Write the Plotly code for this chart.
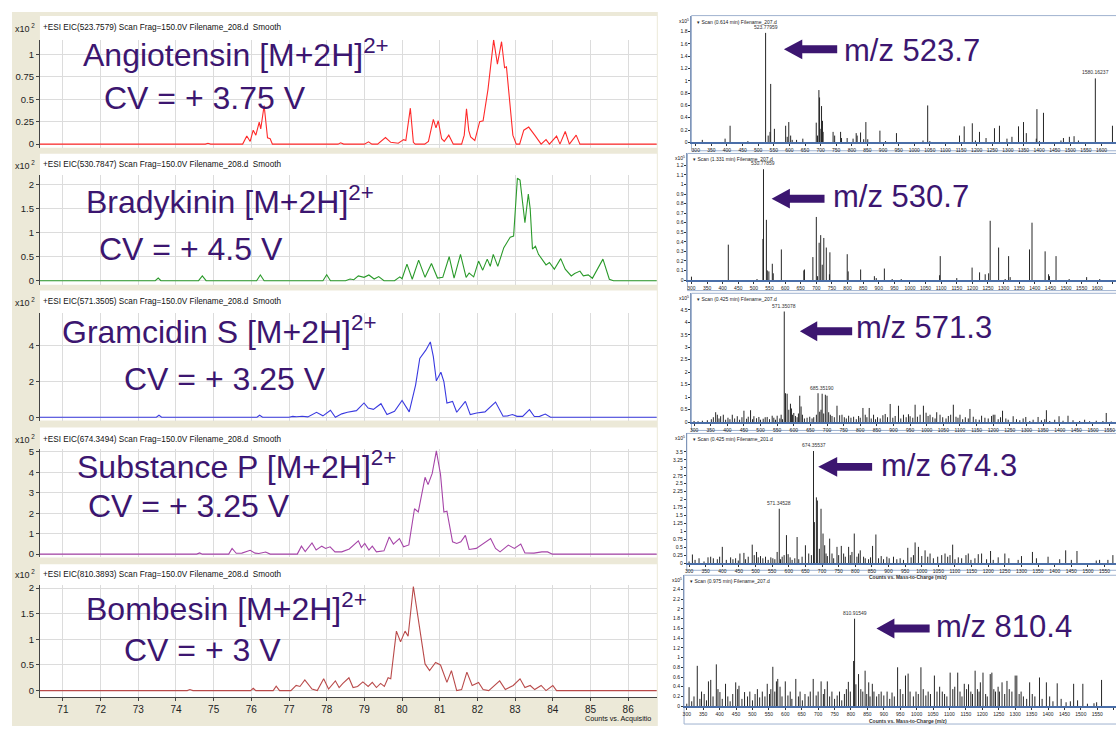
import plotly.graph_objects as go

W, H = 1116, 729


def fx(p):
    return p / W


def fy(p):
    return 1 - p / H


# ---------------- extracted ion chromatograms (min, counts x10^2) ----------------
angio_t = [70.39, 74.78, 74.85, 74.92, 75.77, 75.88, 75.97, 76.05, 76.12, 76.21, 76.25, 76.34, 76.43, 76.50, 76.56,
           78.30, 78.37, 78.45, 79.00, 79.11, 79.20, 79.35, 79.56, 79.70, 79.90, 80.04, 80.10, 80.22, 80.30, 80.35,
           80.60, 80.70, 80.83, 80.90, 80.96, 81.05, 81.12, 81.24, 81.36, 81.58, 81.65, 81.71, 81.77, 81.82, 81.93,
           82.00, 82.06, 82.15, 82.28, 82.43, 82.53, 82.64, 82.72, 82.77, 82.86, 82.94, 83.03, 83.12, 83.23, 83.36,
           83.52, 83.69, 83.82, 83.91, 84.10, 84.19, 84.33, 84.44, 84.62, 84.72, 86.76]
angio_i = [0, 0, 0.01, 0, 0, 0.09, 0.03, 0.155, 0.10, 0.245, 0.17, 0.43, 0.07, 0.06, 0,
           0, 0.015, 0, 0, 0.025, 0, 0, 0.073, 0.02, 0.01, 0.05, 0.04, 0.40, 0.02, 0,
           0, 0.03, 0.276, 0.18, 0.26, 0.06, 0.03, 0.10, 0, 0, 0.10, 0.393, 0.15, 0.08, 0.04,
           0.15, 0.25, 0.26, 0.61, 1.16, 0.89, 1.14, 0.85, 0.86, 0.47, 0.10, 0, 0, 0.155, 0.19,
           0.10, 0, 0.05, 0, 0.09, 0, 0.14, 0, 0.10, 0, 0]

brady_t = [70.39, 73.45, 73.53, 73.60, 74.60, 74.70, 74.80, 76.14, 76.24, 76.34, 77.90, 78.00, 78.10, 78.50,
           78.62, 78.72, 78.84, 78.99, 79.12, 79.26, 79.38, 79.52, 79.80, 79.94, 80.00, 80.13, 80.27, 80.44,
           80.61, 80.78, 80.94, 81.08, 81.25, 81.38, 81.55, 81.70, 81.78, 81.90, 82.03, 82.14, 82.26, 82.34,
           82.42, 82.54, 82.70, 82.87, 82.96, 83.06, 83.13, 83.26, 83.35, 83.40, 83.46, 83.54, 83.62, 83.71,
           83.82, 83.91, 84.04, 84.21, 84.33, 84.49, 84.58, 84.72, 84.81, 84.94, 85.05, 85.33, 85.50, 85.61, 86.76]
brady_i = [0, 0, 0.055, 0, 0, 0.10, 0, 0, 0.12, 0, 0, 0.125, 0, 0,
           0.035, 0.02, 0.10, 0.07, 0.12, 0.035, 0.085, 0, 0, 0.08, 0.04, 0.345, 0.03, 0.43,
           0.07, 0.36, 0.055, 0.07, 0.50, 0.055, 0.55, 0.07, 0.16, 0.08, 0.41, 0.22, 0.45, 0.30,
           0.55, 0.30, 0.69, 0.91, 0.93, 2.14, 2.10, 1.21, 1.81, 1.50, 0.66, 0.72, 0.55, 0.45,
           0.33, 0.38, 0.24, 0.46, 0.24, 0.10, 0.15, 0.20, 0.10, 0.12, 0.05, 0.45, 0.03, 0, 0]

gram_t = [70.39, 73.48, 73.55, 73.62, 76.15, 76.22, 76.30, 77.00, 77.10, 77.20, 77.35, 77.50, 77.73, 77.90,
          78.10, 78.23, 78.40, 78.55, 78.79, 78.99, 79.10, 79.24, 79.44, 79.60, 79.80, 80.00, 80.19, 80.36,
          80.47, 80.63, 80.75, 80.83, 80.91, 81.03, 81.11, 81.19, 81.34, 81.45, 81.68, 81.81, 81.98, 82.20,
          82.48, 82.68, 82.80, 82.93, 83.05, 83.20, 83.38, 83.51, 83.65, 83.80, 83.94, 86.76]
gram_i = [0, 0, 0.11, 0, 0, 0.11, 0, 0, 0.05, 0.03, 0.06, 0.02, 0.28, 0.08,
          0.39, 0, 0.19, 0.28, 0.37, 0.80, 0.52, 0.44, 0.76, 0.15, 0.33, 0.94, 0.30, 1.82,
          3.30, 3.76, 4.22, 3.40, 2.04, 2.52, 2.00, 0.80, 0.89, 0.28, 0.89, 0.15, 0.24, 0.30,
          0.85, 0.06, 0.08, 0.15, 0.05, 0.05, 0.43, 0.04, 0.05, 0.18, 0, 0]

subp_t = [70.39, 74.55, 74.63, 74.70, 75.40, 75.49, 75.60, 75.75, 75.97, 76.10, 76.20, 76.38, 76.50, 77.22,
          77.33, 77.43, 77.61, 77.72, 77.87, 77.97, 78.09, 78.22, 78.40, 78.60, 78.84, 78.92, 79.01, 79.12,
          79.21, 79.32, 79.52, 79.66, 79.77, 79.93, 80.04, 80.18, 80.33, 80.43, 80.61, 80.69, 80.80, 80.91,
          81.02, 81.11, 81.19, 81.34, 81.45, 81.56, 81.68, 81.78, 81.97, 82.15, 82.35, 82.48, 82.60, 82.82,
          82.98, 83.15, 83.26, 83.50, 83.71, 83.86, 83.99, 86.76]
subp_i = [0, 0, 0.06, 0, 0, 0.28, 0.04, 0.05, 0.19, 0.05, 0.03, 0.10, 0, 0,
          0.39, 0.13, 0.55, 0.20, 0.39, 0.28, 0.36, 0.11, 0.11, 0.25, 0.65, 0.32, 0.52, 0.20,
          0.39, 0.11, 0.16, 0.84, 0.49, 0.76, 0.36, 0.45, 2.22, 2.06, 3.76, 3.40, 3.95, 5.05,
          3.90, 2.06, 2.10, 0.60, 0.52, 0.60, 0.92, 0.23, 0.28, 0.52, 0.76, 0.28, 0.11, 0.44,
          0.28, 0.49, 0.06, 0.05, 0.11, 0.11, 0, 0]

bomb_t = [70.39, 74.30, 74.37, 74.45, 75.98, 76.05, 76.12, 76.58, 76.66, 76.75, 77.05, 77.19, 77.29, 77.42,
          77.61, 77.75, 77.92, 78.05, 78.23, 78.33, 78.43, 78.59, 78.70, 78.82, 78.96, 79.10, 79.21, 79.32,
          79.43, 79.53, 79.63, 79.70, 79.85, 79.96, 80.08, 80.16, 80.30, 80.41, 80.52, 80.61, 80.73, 80.89,
          81.02, 81.19, 81.31, 81.45, 81.58, 81.72, 81.86, 82.03, 82.15, 82.30, 82.59, 82.74, 82.95, 83.13,
          83.26, 83.40, 83.52, 83.69, 83.82, 84.00, 84.10, 86.76]
bomb_i = [0, 0, 0.02, 0, 0, 0.045, 0, 0, 0.085, 0, 0, 0.10, 0.08, 0.21,
          0.03, 0, 0.23, 0.03, 0.19, 0.06, 0.14, 0.25, 0.06, 0.08, 0.17, 0.08, 0.16, 0.06,
          0.14, 0.08, 0.25, 0.23, 1.16, 0.95, 1.16, 1.06, 2.03, 1.48, 0.90, 0.52, 0.39, 0.55,
          0.50, 0.16, 0.39, 0, 0.02, 0.36, 0.10, 0.16, 0.02, 0, 0.19, 0.02, 0.10, 0.23,
          0.06, 0.10, 0.02, 0.10, 0, 0.10, 0, 0]

eic_headers = ["+ESI EIC(523.7579) Scan Frag=150.0V Filename_208.d \u00a0Smooth",
               "+ESI EIC(530.7847) Scan Frag=150.0V Filename_208.d \u00a0Smooth",
               "+ESI EIC(571.3505) Scan Frag=150.0V Filename_208.d \u00a0Smooth",
               "+ESI EIC(674.3494) Scan Frag=150.0V Filename_208.d \u00a0Smooth",
               "+ESI EIC(810.3893) Scan Frag=150.0V Filename_208.d \u00a0Smooth"]
eic_ticks = [[0, 0.25, 0.5, 0.75, 1], [0, 0.5, 1, 1.5, 2], [0, 2, 4], [0, 1, 2, 3, 4, 5], [0, 0.5, 1, 1.5, 2]]
eic_ticktext = [["0", "0.25", "0.5", "0.75", "1"], ["0", "0.5", "1", "1.5", "2"], ["0", "2", "4"],
                ["0", "1", "2", "3", "4", "5"], ["0", "0.5", "1", "1.5", "2"]]
time_ticks = list(range(71, 87))

peptide_labels = ["Angiotensin [M+2H]<sup>2+</sup>", "Bradykinin [M+2H]<sup>2+</sup>",
                  "Gramcidin S [M+2H]<sup>2+</sup>", "Substance P [M+2H]<sup>2+</sup>",
                  "Bombesin [M+2H]<sup>2+</sup>"]
cv_labels = ["CV = + 3.75 V", "CV = + 4.5 V", "CV = + 3.25 V", "CV = + 3.25 V", "CV = + 3 V"]

# ---------------- mass spectra (m/z, counts x10^5) ----------------
ang_mz = [321, 394, 410, 467, 523.78, 532, 538, 540, 552, 588, 593, 598, 604, 609, 623, 643, 686, 690, 694.5, 696.6,
          701, 703, 706, 708, 740, 745, 764, 767, 785, 804, 814, 817, 828, 838, 845, 851, 890, 908, 943, 1028,
          1043, 1050, 1145, 1160, 1186, 1196, 1209, 1230, 1257, 1273, 1297, 1313, 1334, 1350, 1359, 1391, 1393,
          1401, 1414, 1470, 1478, 1497, 1512, 1526, 1580.16, 1635]
ang_int = [0.04, 0.06, 0.27, 0.02, 1.78, 0.11, 0.17, 0.95, 0.22, 0.27, 0.09, 0.33, 0.11, 0.04, 0.04, 0.06, 0.32, 0.11,
           0.85, 0.73, 0.22, 0.59, 0.35, 0.17, 0.17, 0.11, 0.17, 0.07, 0.07, 0.06, 0.15, 0.11, 0.16, 0.05, 0.33, 0.05,
           0.19, 0.02, 0.15, 0.03, 0.60, 0.02, 0.11, 0.26, 0.31, 0.03, 0.17, 0.07, 0.23, 0.27, 0.06, 0.09, 0.26,
           0.33, 0.15, 0.06, 0.54, 0.02, 0.48, 0.03, 0.07, 0.09, 0.10, 0.03, 1.04, 0.27]

brd_mz = [300, 418, 510, 529, 530.78, 540, 543, 548, 559, 562, 588, 660, 662, 689, 700, 704, 709, 714, 719, 724,
          732, 742, 743.5, 799, 802, 842, 886, 892, 918, 943, 972, 1095, 1097, 1150, 1199, 1223, 1241, 1252,
          1257, 1284, 1305, 1316, 1321, 1383, 1391, 1433, 1444, 1447, 1468, 1510, 1566, 1608]
brd_int = [0.035, 0.37, 0.01, 0.43, 1.16, 0.63, 0.10, 0.09, 0.17, 0.07, 0.32, 0.10, 0.11, 0.24, 0.66, 0.04, 0.39,
           0.47, 0.16, 0.44, 0.34, 0.06, 0.29, 0.27, 0.09, 0.11, 0.04, 0.02, 0.12, 0.01, 0.01, 0.05, 0.25, 0.02,
           0.13, 0.08, 0.06, 0.07, 0.62, 0.34, 0.01, 0.25, 0.03, 0.32, 0.60, 0.30, 0.06, 0.04, 0.25, 0.01, 0.03, 0.01]

grm_mz = [571.35, 575, 580, 590, 600, 618, 622, 673, 685.35, 695, 700, 365, 370, 380, 388, 415, 430, 450, 470, 480,
          495, 520, 535, 550, 730, 745, 765, 808, 827, 840, 875, 890, 915, 930, 950, 965, 990, 1010, 1030, 1080,
          1100, 1130, 1165, 1205, 1228, 1260, 1298, 1335, 1360, 1398, 1425, 1475, 1540,
          300, 312, 325, 340, 352, 358, 375, 395, 402, 408, 422, 437, 444, 458, 463, 476, 488, 500, 508, 514, 527,
          540, 545, 558, 562, 566, 585, 593, 596, 605, 610, 614, 626, 632, 640, 648, 655, 660, 668, 678, 682,
          690, 705, 710, 715, 722, 738, 752, 758, 772, 780, 788, 795, 800, 815, 820, 833, 846, 852, 860, 868,
          882, 898, 905, 922, 938, 945, 958, 972, 980, 998, 1004, 1018, 1025, 1040, 1048, 1058, 1065, 1072,
          1088, 1094, 1108, 1116, 1125, 1140, 1148, 1158, 1175, 1185, 1195, 1200, 1215, 1222, 1238, 1245,
          1270, 1280, 1290, 1310, 1320, 1345, 1355, 1370, 1385, 1410, 1440, 1460, 1490, 1510, 1530, 1555]
grm_int = [4.43, 1.16, 1.14, 0.74, 0.37, 1.06, 0.63, 1.16, 1.14, 1.10, 1.06, 0.40, 0.30, 0.24, 0.30, 0.30, 0.24,
           0.46, 0.48, 0.24, 0.21, 0.21, 0.26, 0.26, 0.66, 0.30, 0.26, 0.57, 0.57, 0.30, 0.33, 0.73, 0.66, 0.30,
           0.24, 0.70, 0.66, 0.30, 0.40, 0.70, 0.30, 0.53, 0.26, 0.30, 0.46, 0.24, 0.21, 0.21, 0.48, 0.24, 0.26,
           0.10, 0.37,
           0.05, 0.04, 0.06, 0.08, 0.12, 0.20, 0.15, 0.10, 0.18, 0.12, 0.15, 0.10, 0.20, 0.14, 0.22, 0.12, 0.16,
           0.10, 0.14, 0.20, 0.12, 0.18, 0.10, 0.15, 0.30, 0.12, 0.50, 0.55, 0.30, 0.25, 0.20, 0.35, 0.30, 0.15,
           0.18, 0.22, 0.15, 0.20, 0.30, 0.42, 0.50, 0.35, 0.40, 0.30, 0.25, 0.20, 0.28, 0.20, 0.15, 0.18, 0.22,
           0.12, 0.25, 0.18, 0.30, 0.20, 0.15, 0.12, 0.20, 0.15, 0.28, 0.20, 0.18, 0.25, 0.15, 0.20, 0.32, 0.18,
           0.22, 0.30, 0.38, 0.25, 0.20, 0.15, 0.30, 0.20, 0.15, 0.25, 0.30, 0.22, 0.18, 0.12, 0.20, 0.15, 0.22,
           0.12, 0.10, 0.18, 0.15, 0.25, 0.30, 0.12, 0.20, 0.15, 0.10, 0.12, 0.08, 0.15, 0.05, 0.10, 0.08, 0.12,
           0.05, 0.10, 0.06, 0.08, 0.05, 0.04, 0.06, 0.05, 0.03]

sbp_mz = [674.35, 571.35, 677, 683, 686, 697, 703, 708, 723, 745, 758, 780, 797, 815, 852, 862, 958, 980, 990,
          1010, 1093, 1207, 1250, 1333, 1433, 1467, 1575, 310, 400, 453, 465, 490, 503, 565, 593, 625, 650,
          300, 318, 330, 345, 357, 365, 373, 385, 392, 412, 425, 432, 440, 448, 470, 478, 496, 508, 515, 522,
          530, 538, 546, 552, 558, 575, 580, 586, 598, 604, 610, 618, 630, 640, 660, 668, 692, 712, 716, 730,
          735, 750, 765, 770, 785, 790, 805, 810, 825, 830, 840, 846, 870, 878, 885, 895, 902, 915, 925, 935,
          945, 968, 975, 1000, 1018, 1025, 1035, 1048, 1060, 1070, 1078, 1085, 1100, 1110, 1120, 1133, 1140,
          1148, 1160, 1170, 1180, 1195, 1215, 1230, 1262, 1290, 1300, 1345, 1380, 1415, 1450, 1525, 1535, 1560]
sbp_int = [3.53, 1.71, 1.29, 2.07, 1.97, 1.71, 0.93, 0.56, 0.77, 0.51, 0.54, 0.51, 0.93, 0.40, 0.54, 0.90, 0.48,
           0.65, 0.51, 0.40, 0.58, 0.38, 0.30, 0.35, 0.40, 0.38, 0.25, 0.27, 0.51, 0.30, 0.32, 0.58, 0.35, 0.35,
           0.88, 0.82, 0.56,
           0.05, 0.10, 0.15, 0.05, 0.18, 0.20, 0.15, 0.12, 0.20, 0.10, 0.18, 0.12, 0.15, 0.08, 0.12, 0.20, 0.25,
           0.18, 0.22, 0.15, 0.20, 0.10, 0.18, 0.15, 0.12, 0.12, 0.20, 0.25, 0.28, 0.18, 0.10, 0.15, 0.12, 0.20,
           0.30, 0.25, 0.45, 0.30, 0.22, 0.30, 0.15, 0.25, 0.30, 0.20, 0.25, 0.35, 0.20, 0.30, 0.20, 0.15, 0.12,
           0.18, 0.15, 0.22, 0.12, 0.20, 0.15, 0.20, 0.12, 0.15, 0.10, 0.18, 0.25, 0.22, 0.20, 0.30, 0.15, 0.20,
           0.25, 0.30, 0.20, 0.25, 0.12, 0.18, 0.15, 0.25, 0.30, 0.10, 0.15, 0.28, 0.30, 0.12, 0.10, 0.18, 0.15,
           0.10, 0.22, 0.15, 0.20, 0.12, 0.10, 0.08, 0.10, 0.10]

bmb_mz = [810.92, 808, 823, 843, 854, 307, 332, 353, 366, 373, 390, 401, 418, 449, 459, 476, 515, 545, 562, 573,
          577, 600, 632, 685, 709, 728, 792, 865, 942, 966, 974, 1013, 1054, 1102, 1125, 1145, 1178, 1194, 1202,
          1224, 1229, 1260, 1275, 1300, 1305, 1344, 1374, 1395, 1428, 1478, 1506, 1563,
          300, 315, 322, 340, 345, 360, 380, 395, 408, 425, 432, 440, 455, 468, 485, 492, 500, 508, 522, 530,
          538, 552, 556, 568, 584, 590, 608, 615, 620, 640, 645, 652, 660, 670, 676, 694, 700, 716, 720, 735,
          742, 750, 758, 765, 772, 780, 786, 798, 815, 830, 836, 848, 858, 870, 878, 885, 892, 900, 910, 918,
          925, 932, 950, 958, 980, 990, 998, 1005, 1020, 1028, 1035, 1042, 1062, 1070, 1078, 1085, 1092, 1110,
          1116, 1132, 1138, 1152, 1158, 1165, 1170, 1185, 1190, 1210, 1215, 1235, 1240, 1248, 1252, 1268,
          1282, 1290, 1312, 1318, 1325, 1335, 1352, 1360, 1382, 1405, 1415, 1440, 1455, 1468, 1490, 1520,
          1540, 1548]
bmb_int = [1.80, 0.93, 0.66, 0.73, 0.49, 0.39, 0.83, 0.25, 0.51, 0.54, 0.86, 0.29, 0.46, 0.49, 0.42, 0.29, 0.35,
           0.46, 0.81, 0.51, 0.56, 0.51, 0.56, 0.56, 0.51, 0.51, 0.50, 0.46, 0.80, 0.63, 0.67, 0.80, 0.63, 0.69,
           0.69, 0.46, 0.73, 0.49, 0.69, 0.66, 0.69, 0.49, 0.52, 0.63, 0.63, 0.49, 0.59, 0.49, 0.47, 0.46, 0.46,
           0.54,
           0.05, 0.10, 0.20, 0.15, 0.30, 0.12, 0.20, 0.35, 0.15, 0.20, 0.10, 0.25, 0.35, 0.15, 0.20, 0.30, 0.12,
           0.25, 0.18, 0.30, 0.20, 0.25, 0.35, 0.30, 0.40, 0.20, 0.22, 0.30, 0.15, 0.20, 0.30, 0.12, 0.25, 0.20,
           0.30, 0.22, 0.30, 0.25, 0.35, 0.20, 0.30, 0.15, 0.22, 0.30, 0.12, 0.25, 0.35, 0.30, 0.45, 0.35, 0.30,
           0.25, 0.20, 0.30, 0.20, 0.25, 0.30, 0.22, 0.30, 0.15, 0.28, 0.20, 0.35, 0.25, 0.30, 0.20, 0.30, 0.25,
           0.35, 0.22, 0.30, 0.25, 0.30, 0.40, 0.30, 0.25, 0.20, 0.35, 0.40, 0.30, 0.20, 0.35, 0.45, 0.30, 0.25,
           0.35, 0.30, 0.25, 0.20, 0.35, 0.30, 0.40, 0.30, 0.25, 0.35, 0.30, 0.25, 0.30, 0.20, 0.15, 0.25, 0.20,
           0.15, 0.20, 0.10, 0.15, 0.08, 0.10, 0.12, 0.05, 0.06, 0.08]

scan_headers = ["Scan (0.614 min) Filename_207.d", "Scan (1.331 min) Filename_207.d",
                "Scan (0.425 min) Filename_207.d", "Scan (0.425 min) Filename_201.d",
                "Scan (0.975 min) Filename_207.d"]
peak_labels = [[(523.78, 1.78, "523.77959"), (1580.16, 1.04, "1580.16237")],
               [(530.78, 1.16, "530.77859")],
               [(571.35, 4.43, "571.35078"), (685.35, 1.14, "685.35190")],
               [(674.35, 3.53, "674.35537"), (571.35, 1.71, "571.34528")],
               [(810.92, 1.80, "810.91549")]]
mz_callouts = ["m/z 523.7", "m/z 530.7", "m/z 571.3", "m/z 674.3", "m/z 810.4"]
mz_ticks = list(range(300, 1700, 50))

# ---------------- styling / geometry ----------------
BEIGE = "#ECE9D8"
GRID = "#dcdcdc"
PURPLE = "#3c1670"
NARROW = "Liberation Sans Narrow, Arial Narrow, Liberation Sans, Arial, sans-serif"
SANS = "Liberation Sans, Arial, sans-serif"

eic_series = [(angio_t, angio_i, "#ff2a2a"), (brady_t, brady_i, "#2a9a2a"), (gram_t, gram_i, "#3a3ae0"),
              (subp_t, subp_i, "#a645a8"), (bomb_t, bomb_i, "#b94a4a")]
# (white top, plot top, plot bottom, zero row, px per unit, header row)
eic_geom = [(13, 37, 146, 142.3, 90.6, 25), (152, 173, 284, 280.0, 48.3, 163), (290, 313, 421, 417.7, 18.0, 301),
            (428, 450, 559, 555.7, 20.6, 440), (566, 587, 700, 693.3, 51.7, 576)]
label_pos = [((78.7, 50), (100.3, 96)), ((81.7, 199), (95.3, 248)), ((58.4, 329.7), (119.9, 379.3)),
             ((73.3, 465.8), (83.9, 507)), ((81.7, 609), (119.9, 652))]
T_LEFT, T_RIGHT = 70.391, 86.76
PX_L, PX_R = 38, 656

spectra = [(ang_mz, ang_int), (brd_mz, brd_int), (grm_mz, grm_int), (sbp_mz, sbp_int), (bmb_mz, bmb_int)]
# (frame left, frame top, axis row, px per unit, x of m/z 300, px per m/z, frame bottom, ytick step, ytick max)
ms_geom = [(690.7, 12.7, 140.5, 62.0, 695.0, 0.3127, 149, 0.2, 1.8),
           (686.7, 151.7, 279.3, 96.3, 690.7, 0.3127, 290, 0.1, 1.2),
           (690.7, 292.7, 422.7, 25.2, 693.3, 0.333, 431, 0.5, 4.5),
           (686.0, 434.0, 564.7, 32.0, 688.3, 0.333, 572, 0.25, 3.5),
           (683.3, 577.0, 709.0, 49.0, 686.0, 0.329, 727, 0.2, 2.4)]
arrows = [(783.3, 46.7, 801.7, 836.7), (771.0, 197.3, 789.3, 824.0), (799.3, 331.0, 816.7, 851.7),
          (817.7, 467.7, 836.7, 871.7), (876.0, 630.7, 894.0, 929.3)]
callout_pos = [(842, 47.5), (830.3, 195.3), (853.7, 327.3), (878.7, 466), (933.7, 629)]

fig = go.Figure()
layout = dict(width=W, height=H, margin=dict(l=0, r=0, t=0, b=0), paper_bgcolor="white",
              plot_bgcolor="rgba(0,0,0,0)", showlegend=False)
shapes = [dict(type="rect", xref="paper", yref="paper", x0=fx(10), x1=fx(657), y0=fy(729), y1=fy(9),
               fillcolor=BEIGE, line_width=0, layer="below")]
annotations = []


def fmt(v):
    s = ("%.2f" % v).rstrip("0").rstrip(".")
    return s


# ---- chromatogram panels ----
for k in range(5):
    n = k + 1
    xa = "xaxis" if n == 1 else "xaxis%d" % n
    ya = "yaxis" if n == 1 else "yaxis%d" % n
    xr = "x" if n == 1 else "x%d" % n
    yr = "y" if n == 1 else "y%d" % n
    wtop, ptop, pbot, zero, ppu, hdr = eic_geom[k]
    t, inten, col = eic_series[k]
    assert len(t) == len(inten)
    shapes.append(dict(type="rect", xref="paper", yref="paper", x0=fx(PX_L), x1=fx(PX_R), y0=fy(pbot),
                       y1=fy(wtop), fillcolor="white", line_width=0, layer="below"))
    last = (k == 4)
    layout[xa] = dict(domain=[fx(PX_L), fx(PX_R)], range=[T_LEFT, T_RIGHT], anchor=yr,
                      tickvals=time_ticks, ticktext=[str(v) for v in time_ticks],
                      showgrid=True, gridcolor=GRID, gridwidth=1, zeroline=False,
                      showticklabels=last, ticks="outside" if last else "", ticklen=3, tickcolor="#444",
                      showline=last, linecolor="#444", linewidth=1,
                      tickfont=dict(family=NARROW, size=10, color="#222"))
    layout[ya] = dict(domain=[fy(pbot), fy(ptop)], range=[(zero - pbot) / ppu, (zero - ptop) / ppu], anchor=xr,
                      tickvals=eic_ticks[k], ticktext=eic_ticktext[k], showgrid=True, gridcolor=GRID,
                      zeroline=False, ticks="outside", ticklen=3, tickcolor="#444", showline=True,
                      linecolor="#444", linewidth=1, tickfont=dict(family=NARROW, size=9.5, color="#222"))
    fig.add_trace(go.Scatter(x=t, y=inten, mode="lines", line=dict(color=col, width=1.1), xaxis=xr, yaxis=yr,
                             hoverinfo="skip"))
    annotations.append(dict(xref="paper", yref="paper", x=fx(11), y=fy(hdr), xanchor="left", yanchor="middle",
                            text="x10<sup> 2</sup>", showarrow=False,
                            font=dict(family=NARROW, size=9, color="#222")))
    annotations.append(dict(xref="paper", yref="paper", x=fx(39), y=fy(hdr), xanchor="left", yanchor="middle",
                            text=eic_headers[k], showarrow=False, font=dict(family=NARROW, size=8.2, color="#111")))
    (lx, ly), (cx, cy) = label_pos[k]
    annotations.append(dict(xref="paper", yref="paper", x=fx(lx), y=fy(ly), xanchor="left", yanchor="middle",
                            text=peptide_labels[k], showarrow=False, font=dict(family=SANS, size=32, color=PURPLE)))
    annotations.append(dict(xref="paper", yref="paper", x=fx(cx), y=fy(cy), xanchor="left", yanchor="middle",
                            text=cv_labels[k], showarrow=False, font=dict(family=SANS, size=32, color=PURPLE)))

annotations.append(dict(xref="paper", yref="paper", x=fx(582), y=fy(721), xanchor="left", yanchor="middle",
                        text="Counts vs. Acquisitio", showarrow=False,
                        font=dict(family=NARROW, size=7.2, color="#111")))

# ---- mass spectrum panels ----
for k in range(5):
    n = k + 6
    xa, ya, xr, yr = "xaxis%d" % n, "yaxis%d" % n, "x%d" % n, "y%d" % n
    fl, ft, axrow, ppu, x300, pxmz, fb, ystep, ymax = ms_geom[k]
    mz, inten = spectra[k]
    assert len(mz) == len(inten)
    lo = 300 + (fl - x300) / pxmz
    hi = 300 + (W - x300) / pxmz
    shapes.append(dict(type="rect", xref="paper", yref="paper", x0=fx(fl), x1=fx(W + 5), y0=fy(fb), y1=fy(ft),
                       fillcolor="white", line=dict(color="#9fb2cf", width=1), layer="below"))
    nt = int(round(ymax / ystep))
    yt = [round(i * ystep, 2) for i in range(nt + 1)]
    layout[xa] = dict(domain=[fx(fl), 1.0], range=[lo, hi], anchor=yr, tickvals=mz_ticks,
                      ticktext=[str(v) for v in mz_ticks], showgrid=False, zeroline=False, ticks="outside",
                      ticklen=2, tickcolor="#333", showline=True, linecolor="#4a6ea8", linewidth=1.5,
                      tickfont=dict(family=SANS, size=5, color="#222"))
    layout[ya] = dict(domain=[fy(axrow), fy(ft)], range=[0, (axrow - ft) / ppu], anchor=xr, tickvals=yt,
                      ticktext=[fmt(v) for v in yt], showgrid=False, zeroline=False, ticks="outside", ticklen=2,
                      tickcolor="#333", showline=True, linecolor="#7f95b8", linewidth=1,
                      tickfont=dict(family=SANS, size=5, color="#111"))
    xs, ys = [], []
    for m, v in zip(mz, inten):
        xs += [m, m, None]
        ys += [0, v, None]
    fig.add_trace(go.Scatter(x=xs, y=ys, mode="lines", line=dict(color="#262626", width=1), xaxis=xr, yaxis=yr,
                             hoverinfo="skip", connectgaps=False))
    for (m, v, txt) in peak_labels[k]:
        annotations.append(dict(xref=xr, yref=yr, x=m, y=v, yanchor="bottom", xanchor="center", yshift=1,
                                text=txt, showarrow=False, font=dict(family=SANS, size=5, color="#333")))
    annotations.append(dict(xref="paper", yref="paper", x=fx(fl - 14), y=fy(ft + 5), xanchor="left",
                            yanchor="middle", text="x10<sup>5</sup>", showarrow=False,
                            font=dict(family=SANS, size=5, color="#111")))
    annotations.append(dict(xref="paper", yref="paper", x=fx(fl + 4), y=fy(ft + 6), xanchor="left",
                            yanchor="middle", text="\u25be " + scan_headers[k], showarrow=False,
                            font=dict(family=SANS, size=5, color="#222")))
    # call-out arrow and m/z text
    tx, ty, bx, ex = arrows[k]
    pts = [(tx, ty), (bx, ty - 10), (bx, ty - 4), (ex, ty - 4), (ex, ty + 4), (bx, ty + 4), (bx, ty + 10)]
    path = "M " + " L ".join("%.5f,%.5f" % (fx(a), fy(b)) for a, b in pts) + " Z"
    shapes.append(dict(type="path", xref="paper", yref="paper", path=path, fillcolor=PURPLE, line_width=0,
                       layer="above"))
    cx, cy = callout_pos[k]
    annotations.append(dict(xref="paper", yref="paper", x=fx(cx), y=fy(cy), xanchor="left", yanchor="middle",
                            text=mz_callouts[k], showarrow=False, font=dict(family=SANS, size=31, color=PURPLE)))

for yrow in (579, 724):
    annotations.append(dict(xref="paper", yref="paper", x=fx(908), y=fy(yrow), xanchor="center",
                            yanchor="middle", text="<b>Counts vs. Mass-to-Charge (m/z)</b>", showarrow=False,
                            font=dict(family=SANS, size=5, color="#333")))

layout["shapes"] = shapes
layout["annotations"] = annotations
fig.update_layout(**layout)
fig.write_html("out.html")
